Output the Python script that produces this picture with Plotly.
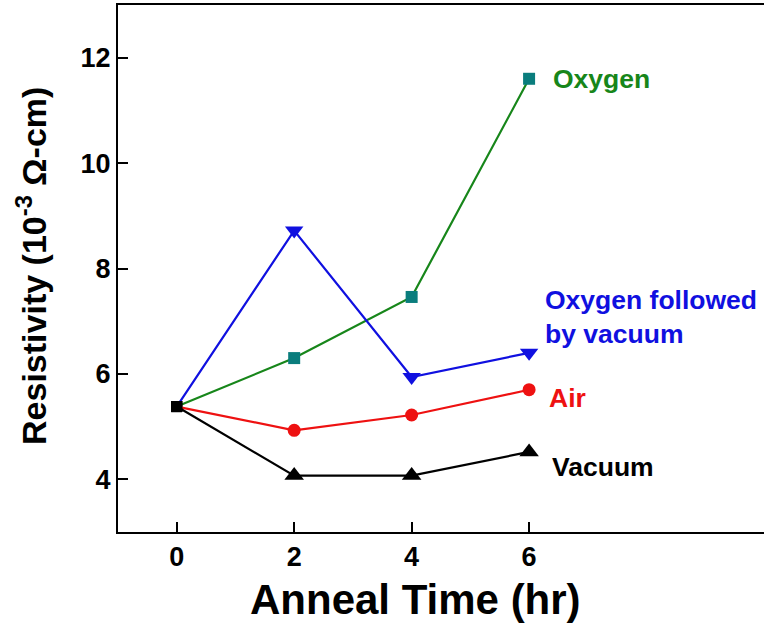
import plotly.graph_objects as go

time_hr = [0, 2, 4, 6]
oxygen = [5.38, 6.30, 7.46, 11.60]
oxy_vac = [5.38, 8.72, 5.94, 6.40]
air = [5.38, 4.93, 5.22, 5.70]
vacuum = [5.38, 4.07, 4.07, 4.52]

x_ticks = [0, 2, 4, 6]
y_ticks = [4, 6, 8, 10, 12]

FONT = "Liberation Sans, Arial, sans-serif"

series = [
    # name, values, line color, marker color, symbol, size
    ("Oxygen", oxygen, "#17861a", "#0a7d7d", "square", 12),
    ("Oxygen followed by vacuum", oxy_vac, "#1010e0", "#1010e0", "triangle-down", 16),
    ("Air", air, "#ee1111", "#ee1111", "circle", 13),
    ("Vacuum", vacuum, "#000000", "#000000", "triangle-up", 17),
]

fig = go.Figure()
for name, vals, lc, mc, sym, sz in series:
    n = len(vals)
    fig.add_trace(go.Scatter(
        x=time_hr, y=vals, mode="lines+markers", name=name,
        line=dict(color=lc, width=2.2),
        marker=dict(symbol=["square"] + [sym] * (n - 1),
                    color=["#000000"] + [mc] * (n - 1),
                    size=[11] + [sz] * (n - 1), line=dict(width=0),
                    opacity=1),
        opacity=1,
        showlegend=False,
    ))

labels = [
    ("Oxygen", 6.38, 11.59, "#17861a"),
    ("Oxygen followed<br>by vacuum", 6.24, 7.08, "#1010e0"),
    ("Air", 6.31, 5.54, "#ee1111"),
    ("Vacuum", 6.35, 4.23, "#000000"),
]
annotations = []
for txt, ax, ay, col in labels:
    annotations.append(dict(
        text=f"<b>{txt}</b>", x=ax, y=ay, xref="x", yref="y",
        xanchor="left", yanchor="middle", align="left", showarrow=False,
        font=dict(family=FONT, size=26.5, color=col),
    ))

annotations.append(dict(
    text="<b>Anneal Time (hr)</b>", x=0.46, y=-0.129, xref="paper", yref="paper",
    xanchor="center", yanchor="middle", showarrow=False,
    font=dict(family=FONT, size=42, color="black"),
))
annotations.append(dict(
    text="<b>Resistivity (10<sup>-3</sup> Ω-cm)</b>", x=-0.133, y=0.505,
    xref="paper", yref="paper", xanchor="center", yanchor="middle",
    textangle=-90, showarrow=False,
    font=dict(family=FONT, size=34, color="black"),
))

fig.update_layout(
    width=764, height=631,
    margin=dict(l=118, r=0, t=5, b=99),
    plot_bgcolor="white", paper_bgcolor="white",
    annotations=annotations,
    font=dict(family=FONT, color="black"),
)
fig.update_xaxes(
    range=[-1, 10], tickvals=x_ticks, ticktext=[str(v) for v in x_ticks],
    ticks="inside", ticklen=10, tickwidth=2, tickcolor="black",
    showline=True, linecolor="black", linewidth=2, mirror=True,
    showgrid=False, zeroline=False,
    tickfont=dict(family=FONT, size=27, color="black", weight="bold"),
)
fig.update_yaxes(
    range=[3, 13], tickvals=y_ticks, ticktext=[str(v) for v in y_ticks],
    ticks="inside", ticklen=10, tickwidth=2, tickcolor="black",
    showline=True, linecolor="black", linewidth=2, mirror=False,
    showgrid=False, zeroline=False,
    tickfont=dict(family=FONT, size=27, color="black", weight="bold"),
)

fig.write_html("out.html")
